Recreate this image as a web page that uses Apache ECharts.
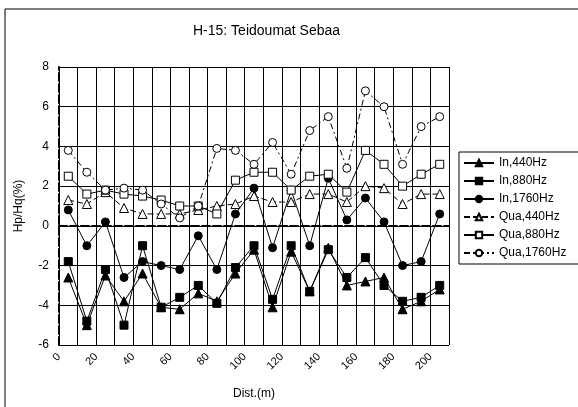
<!DOCTYPE html>
<html>
<head>
<meta charset="utf-8">
<script src="https://cdn.jsdelivr.net/npm/echarts@6/dist/echarts.min.js"></script>
<style>
  html, body { margin: 0; padding: 0; background: #fff; }
  #chart { width: 578px; height: 407px; }
</style>
</head>
<body>
<div id="chart"></div>
<script>
// Distance along the profile (m)
const distances = [5, 15, 25, 35, 45, 55, 65, 75, 85, 95, 105, 115, 125, 135, 145, 155, 165, 175, 185, 195, 205];

// Hp/Hq (%) — in-phase components
const in440  = [-2.6, -5.0, -2.5, -3.8, -2.4, -4.1, -4.2, -3.4, -3.8, -2.4, -1.2, -4.1, -1.3, -3.3, -1.1, -3.0, -2.8, -2.6, -4.2, -3.8, -3.2];
const in880  = [-1.8, -4.8, -2.2, -5.0, -1.0, -4.1, -3.6, -3.0, -3.9, -2.1, -1.0, -3.7, -1.0, -3.3, -1.2, -2.6, -1.6, -3.0, -3.8, -3.6, -3.0];
const in1760 = [0.8, -1.0, 0.2, -2.6, -1.8, -2.0, -2.2, -0.5, -2.2, 0.6, 1.9, -1.1, 1.8, -1.0, 2.4, 0.3, 1.4, 0.2, -2.0, -1.8, 0.6];

// Hp/Hq (%) — quadrature components
const qua440  = [1.3, 1.1, 1.7, 0.9, 0.6, 0.6, 0.6, 0.8, 1.0, 1.1, 1.5, 1.2, 1.2, 1.6, 1.6, 1.2, 2.0, 1.9, 1.1, 1.6, 1.6];
const qua880  = [2.5, 1.6, 1.8, 1.6, 1.5, 1.3, 1.0, 1.0, 0.6, 2.3, 2.7, 2.7, 1.8, 2.5, 2.6, 1.7, 3.8, 3.1, 2.0, 2.6, 3.1];
const qua1760 = [3.8, 2.7, 1.8, 1.9, 1.8, 1.1, 0.4, 1.0, 3.9, 3.8, 3.1, 4.2, 2.6, 4.8, 5.5, 2.9, 6.8, 6.0, 3.1, 5.0, 5.5];

const yTicks = { min: -6, max: 8, step: 2 };
const xTicks = { min: 0, max: 210, step: 10, labelEvery: 20 };

const FONT = 'Liberation Sans, Arial, sans-serif';

function pairs(values) {
  return distances.map((d, i) => [d, values[i]]);
}

function makeSeries(name, values, symbol, filled, lineType) {
  return {
    name: name,
    type: 'line',
    data: pairs(values),
    symbol: symbol,
    symbolSize: symbol === 'triangle' ? 9 : 8,
    showSymbol: true,
    animation: false,
    itemStyle: {
      color: filled ? '#000' : '#fff',
      borderColor: '#000',
      borderWidth: 1
    },
    lineStyle: { color: '#000', width: 1, type: lineType },
    emphasis: { disabled: true }
  };
}

const chart = echarts.init(document.getElementById('chart'), null, { renderer: 'canvas' });

chart.setOption({
  backgroundColor: '#fff',
  animation: false,
  title: {
    text: 'H-15: Teidoumat Sebaa',
    left: 188,
    top: 19,
    textStyle: { fontFamily: FONT, fontSize: 14, fontWeight: 'normal', color: '#000' }
  },
  graphic: [
    {
      type: 'rect',
      shape: { x: 5, y: 9, width: 620, height: 460 },
      style: { fill: null, stroke: '#000', lineWidth: 1 },
      silent: true,
      z: -1
    }
  ],
  legend: {
    orient: 'vertical',
    left: 459,
    top: 152,
    itemWidth: 30,
    itemHeight: 8,
    itemGap: 6,
    padding: [5, 30, 5, 4],
    borderColor: '#000',
    borderWidth: 1,
    backgroundColor: '#fff',
    textStyle: { fontFamily: FONT, fontSize: 12, color: '#000' },
    data: ['In,440Hz', 'In,880Hz', 'In,1760Hz', 'Qua,440Hz', 'Qua,880Hz', 'Qua,1760Hz']
  },
  grid: { left: 59, right: 129, top: 67, bottom: 62 },
  xAxis: {
    type: 'value',
    min: xTicks.min,
    max: xTicks.max,
    interval: xTicks.step,
    name: 'Dist.(m)',
    nameLocation: 'middle',
    nameGap: 43,
    nameTextStyle: { fontFamily: FONT, fontSize: 12, color: '#000' },
    axisLine: { lineStyle: { color: '#000', width: 2, type: [8, 3] } },
    axisTick: { show: true, length: 3, lineStyle: { color: '#000' } },
    axisLabel: {
      rotate: 45,
      margin: 10,
      fontFamily: FONT,
      fontSize: 11,
      color: '#000',
      formatter: v => (v % xTicks.labelEvery === 0 && v <= 200 ? String(v) : '')
    },
    splitLine: { show: true, lineStyle: { color: '#000', width: 1 } }
  },
  yAxis: {
    type: 'value',
    min: yTicks.min,
    max: yTicks.max,
    interval: yTicks.step,
    name: 'Hp/Hq(%)',
    nameLocation: 'middle',
    nameGap: 34,
    nameTextStyle: { fontFamily: FONT, fontSize: 12, color: '#000' },
    axisLine: { show: true, lineStyle: { color: '#000', width: 2, type: [8, 3] } },
    axisTick: { show: false },
    axisLabel: { fontFamily: FONT, fontSize: 12, color: '#000', margin: 10 },
    splitLine: { show: true, lineStyle: { color: '#000', width: 1 } }
  },
  series: [
    makeSeries('In,440Hz', in440, 'triangle', true, 'solid'),
    makeSeries('In,880Hz', in880, 'rect', true, 'solid'),
    makeSeries('In,1760Hz', in1760, 'circle', true, 'solid'),
    makeSeries('Qua,440Hz', qua440, 'triangle', false, [6, 3]),
    makeSeries('Qua,880Hz', qua880, 'rect', false, 'solid'),
    makeSeries('Qua,1760Hz', qua1760, 'circle', false, [6, 3, 2, 3])
  ]
});
</script>
</body>
</html>
